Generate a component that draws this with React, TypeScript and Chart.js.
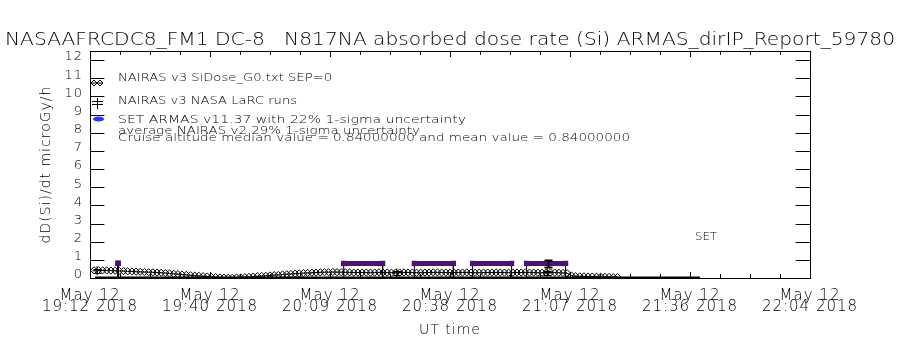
import React, { useEffect, useRef } from 'react';
import { Chart, registerables } from 'chart.js';

Chart.register(...registerables);

const FONT = "'DejaVu Sans', sans-serif";
const WEIGHT = 200;

// ---------- text ----------
const titleText = 'NASAAFRCDC8_FM1 DC-8   N817NA absorbed dose rate (Si) ARMAS_dirIP_Report_59780';
const legendLabels = [
  'NAIRAS v3 SiDose_G0.txt SEP=0',
  'NAIRAS v3 NASA LaRC runs',
  'SET ARMAS v11.37 with 22% 1-sigma uncertainty',
  'average NAIRAS v2 29% 1-sigma uncertainty',
  'Cruise altitude median value = 0.84000000 and mean value = 0.84000000',
];
const setLabel = 'SET';
const xAxisTitle = 'UT time';
const yAxisTitle = 'dD(Si)/dt microGy/h';

// ---------- axes (x in minutes after 19:12 UT) ----------
const xMin = 0;
const xMax = 172;
const yMin = 0;
const yMax = 12.5;
const xTickMinutes = [0, 28.67, 57.33, 86, 114.67, 143.33, 172];
const xTickDates = ['May 12', 'May 12', 'May 12', 'May 12', 'May 12', 'May 12', 'May 12'];
const xTickTimes = ['19:12 2018', '19:40 2018', '20:09 2018', '20:38 2018', '21:07 2018', '21:36 2018', '22:04 2018'];
const yTickValues = [0, 1, 2, 3, 4, 5, 6, 7, 8, 9, 10, 11, 12];
const yTickLabels = ['0', '1', '2', '3', '4', '5', '6', '7', '8', '9', '10', '11', '12'];

// ---------- NAIRAS v3 SiDose_G0 (one sample per minute) ----------
const nairasStartMinute = 1;
const nairasStepMinutes = 1;
const nairasValues = [
  0.42, 0.43, 0.42, 0.42, 0.41, 0.40, 0.39, 0.38, 0.37, 0.36,
  0.35, 0.34, 0.33, 0.32, 0.31, 0.30, 0.29, 0.27, 0.25, 0.23,
  0.21, 0.19, 0.17, 0.15, 0.13, 0.12, 0.10, 0.08, 0.06, 0.05,
  0.03, 0.02, 0.01, 0.01, 0.02, 0.03, 0.05, 0.06, 0.08, 0.10,
  0.11, 0.12, 0.14, 0.16, 0.17, 0.19, 0.21, 0.22, 0.24, 0.25,
  0.27, 0.28, 0.29, 0.30, 0.31, 0.32, 0.32, 0.33, 0.32, 0.32,
  0.31, 0.31, 0.30, 0.30, 0.30,
  0.30, 0.29, 0.30, 0.31, 0.30, 0.30, 0.29, 0.30, 0.30, 0.31,
  0.30, 0.30, 0.29, 0.29, 0.30, 0.30, 0.31, 0.31, 0.30, 0.30,
  0.29, 0.30, 0.30, 0.30, 0.31, 0.30, 0.29, 0.29, 0.30, 0.30,
  0.30, 0.31, 0.30, 0.30, 0.29, 0.30, 0.30, 0.30, 0.31, 0.30,
  0.30, 0.29, 0.29, 0.30, 0.30, 0.30, 0.29, 0.28,
  0.26, 0.14, 0.10, 0.09, 0.09, 0.08, 0.08, 0.07, 0.07, 0.06,
  0.06, 0.05, 0.05,
];

// ---------- NAIRAS v3 NASA LaRC runs ----------
const larcMinutes = [1.7, 73.3, 109.2];
const larcValues = [0.4, 0.28, 0.28];
const larcErrors = [0.1, 0.1, 0.1];

// ---------- SET ARMAS v11.37 segments ----------
const armasStartMinutes = [6.7, 60.6, 77.5, 91.4, 104.3];
const armasEndMinutes = [6.7, 69.9, 86.8, 100.7, 113.6];
const armasValues = [0.81, 0.8, 0.8, 0.8, 0.8];

// ---------- average NAIRAS v2 uncertainty bar ----------
const avgV2Minutes = [109.4];
const avgV2Values = [0.8];
const avgV2Errors = [0.2];

// ---------- zero-level ARMAS trace ----------
const zeroLineMinutes = [1.2, 145.7];
const zeroLineValues = [0, 0];

const PURPLE = '#4e1270';
const BLUE = '#2438ff';

function fitText(ctx: CanvasRenderingContext2D, text: string, x: number, baseline: number, width: number, font: string) {
  ctx.save();
  (ctx as any).letterSpacing = '0px';
  ctx.font = font;
  ctx.fillStyle = '#000';
  ctx.textAlign = 'left';
  ctx.textBaseline = 'alphabetic';
  const w = ctx.measureText(text).width || 1;
  ctx.translate(x, baseline);
  ctx.scale(width / w, 1);
  ctx.fillText(text, 0, 0);
  ctx.restore();
}

function seg(ctx: CanvasRenderingContext2D, x1: number, y1: number, x2: number, y2: number) {
  ctx.beginPath();
  ctx.moveTo(x1, y1);
  ctx.lineTo(x2, y2);
  ctx.stroke();
}

const decorPlugin = {
  id: 'idlDecor',
  beforeDraw(chart: any) {
    const ctx = chart.ctx as CanvasRenderingContext2D;
    ctx.save();
    ctx.fillStyle = '#fff';
    ctx.fillRect(0, 0, chart.width, chart.height);
    ctx.restore();
    (ctx as any).letterSpacing = '1px';
  },
  afterDatasetsDraw(chart: any) {
    const ctx = chart.ctx as CanvasRenderingContext2D;
    const xs = chart.scales.x;
    const ys = chart.scales.y;
    ctx.save();
    ctx.strokeStyle = '#000';
    ctx.lineWidth = 1;
    const bar = (m: number, v: number, e: number, cap: number) => {
      const px = Math.round(xs.getPixelForValue(m)) + 0.5;
      const p1 = Math.round(ys.getPixelForValue(v - e)) + 0.5;
      const p2 = Math.round(ys.getPixelForValue(v + e)) + 0.5;
      seg(ctx, px, p1, px, p2);
      seg(ctx, px - cap, p1, px + cap, p1);
      seg(ctx, px - cap, p2, px + cap, p2);
    };
    larcMinutes.forEach((m, i) => bar(m, larcValues[i], larcErrors[i], 4));
    ctx.lineWidth = 2;
    avgV2Minutes.forEach((m, i) => bar(m, avgV2Values[i], avgV2Errors[i], 4));
    ctx.restore();
  },
  afterDraw(chart: any) {
    const ctx = chart.ctx as CanvasRenderingContext2D;
    const { left, right, top, bottom } = chart.chartArea;
    const xs = chart.scales.x;
    const ys = chart.scales.y;
    ctx.save();
    (ctx as any).letterSpacing = '0px';
    ctx.strokeStyle = '#000';
    ctx.lineWidth = 1;
    // box
    seg(ctx, left, Math.round(top) + 0.5, right + 1, Math.round(top) + 0.5);
    seg(ctx, Math.round(right) + 0.5, top, Math.round(right) + 0.5, bottom + 1);
    // y ticks both sides
    const yLen = (right - left) * 0.02;
    yTickValues.forEach((v) => {
      const py = Math.round(ys.getPixelForValue(v)) + 0.5;
      seg(ctx, left, py, left + yLen, py);
      seg(ctx, right, py, right - yLen, py);
    });
    // x ticks top and bottom
    xTickMinutes.forEach((v, i) => {
      const px = Math.round(xs.getPixelForValue(v)) + 0.5;
      seg(ctx, px, bottom, px, bottom - 6);
      seg(ctx, px, top, px, top + 6);
      if (i < xTickMinutes.length - 1) {
        const next = xTickMinutes[i + 1];
        for (let k = 1; k < 4; k++) {
          const mv = v + ((next - v) * k) / 4;
          const mx = Math.round(xs.getPixelForValue(mv)) + 0.5;
          seg(ctx, mx, bottom, mx, bottom - 4);
          seg(ctx, mx, top, mx, top + 4);
        }
      }
    });
    // title
    fitText(ctx, titleText, 5, 45, 890, `${WEIGHT} 18px ${FONT}`);
    // legend text
    const lx = 118;
    const baselines = [81, 104, 123, 134, 141];
    const widths = [214, 179, 348, 302, 512];
    legendLabels.forEach((t, i) => fitText(ctx, t, lx, baselines[i], widths[i], `${WEIGHT} 11px ${FONT}`));
    fitText(ctx, setLabel, 695, 240, 22, `${WEIGHT} 11px ${FONT}`);
    // legend symbols
    ctx.lineWidth = 1;
    const diamond = (cx: number, cy: number, r: number) => {
      ctx.beginPath();
      ctx.moveTo(cx - r, cy);
      ctx.lineTo(cx, cy - r);
      ctx.lineTo(cx + r, cy);
      ctx.lineTo(cx, cy + r);
      ctx.closePath();
      ctx.stroke();
    };
    diamond(94, 83, 3);
    diamond(100, 83, 3);
    seg(ctx, 91, 83, 103, 83);
    // LaRC symbol
    seg(ctx, 97.5, 98, 97.5, 109);
    seg(ctx, 92, 101.5, 103, 101.5);
    seg(ctx, 92, 104.5, 103, 104.5);
    // ARMAS symbol
    ctx.fillStyle = BLUE;
    ctx.beginPath();
    ctx.ellipse(98.5, 119, 5.5, 2.6, 0, 0, Math.PI * 2);
    ctx.fill();
    ctx.restore();
  },
};

export default function App() {
  const canvasRef = useRef<HTMLCanvasElement>(null);

  useEffect(() => {
    const canvas = canvasRef.current;
    if (!canvas) return;

    const nairasData = nairasValues.map((v, i) => ({ x: nairasStartMinute + i * nairasStepMinutes, y: v }));
    const larcData = larcMinutes.map((m, i) => ({ x: m, y: larcValues[i] }));
    const armasData: any[] = [];
    const connectorData: any[] = [];
    armasStartMinutes.forEach((s, i) => {
      const e = armasEndMinutes[i];
      const v = armasValues[i];
      armasData.push({ x: s, y: v }, { x: e, y: v }, { x: e, y: null });
      connectorData.push({ x: s, y: 0 }, { x: s, y: v }, { x: s, y: null });
      connectorData.push({ x: e, y: v }, { x: e, y: 0 }, { x: e, y: null });
    });
    const zeroData = zeroLineMinutes.map((m, i) => ({ x: m, y: zeroLineValues[i] }));

    const tickFont = { family: FONT, size: 15, weight: WEIGHT, lineHeight: 0.7 };

    const chart = new Chart(canvas, {
      type: 'line',
      data: {
        datasets: [
          {
            label: 'SET ARMAS',
            data: armasData,
            borderColor: PURPLE,
            backgroundColor: PURPLE,
            borderWidth: 5,
            pointStyle: 'rect',
            pointRadius: 3.8,
            pointBorderWidth: 0,
            spanGaps: false,
          },
          {
            label: 'NAIRAS v3 NASA LaRC runs',
            data: larcData,
            showLine: false,
            borderColor: '#000',
            backgroundColor: '#000',
            pointStyle: 'cross',
            pointRadius: 4.5,
            pointBorderWidth: 1,
          },
          {
            label: 'zero',
            data: zeroData,
            borderColor: '#000',
            borderWidth: 3,
            pointRadius: 0,
          },
          {
            label: 'connectors',
            data: connectorData,
            borderColor: '#000',
            borderWidth: 1,
            pointRadius: 0,
            spanGaps: false,
          },
          {
            label: 'NAIRAS v3 SiDose_G0.txt SEP=0',
            data: nairasData,
            borderColor: '#000',
            borderWidth: 1,
            pointStyle: 'rectRot',
            pointRadius: 3.6,
            pointBorderWidth: 1,
            pointBorderColor: '#000',
            pointBackgroundColor: 'rgba(255,255,255,0)',
          },
        ],
      },
      options: {
        animation: false,
        responsive: false,
        devicePixelRatio: 1,
        events: [],
        layout: { padding: { left: 0, top: 51, right: 90, bottom: 0 } },
        plugins: {
          legend: { display: false },
          tooltip: { enabled: false },
          title: { display: false },
        },
        scales: {
          x: {
            type: 'linear',
            min: xMin,
            max: xMax,
            afterFit: (s: any) => { s.height = 72; },
            afterBuildTicks: (s: any) => { s.ticks = xTickMinutes.map((v) => ({ value: v })); },
            grid: { display: false, drawTicks: false },
            border: { display: true, color: '#000', width: 1 },
            ticks: {
              autoSkip: false,
              maxRotation: 0,
              minRotation: 0,
              padding: 13,
              color: '#000',
              font: tickFont,
              callback: (_v: any, i: number) => [xTickDates[i], xTickTimes[i]],
            },
            title: {
              display: true,
              text: xAxisTitle,
              color: '#000',
              font: { family: FONT, size: 14, weight: WEIGHT },
              padding: { top: 0, bottom: 11 },
            },
          },
          y: {
            type: 'linear',
            min: yMin,
            max: yMax,
            afterFit: (s: any) => { s.width = 90; },
            afterBuildTicks: (s: any) => { s.ticks = yTickValues.map((v) => ({ value: v })); },
            grid: { display: false, drawTicks: false },
            border: { display: true, color: '#000', width: 1 },
            ticks: {
              autoSkip: false,
              padding: 7,
              labelOffset: -3,
              color: '#000',
              font: { family: FONT, size: 13, weight: WEIGHT },
              callback: (_v: any, i: number) => yTickLabels[i],
            },
            title: {
              display: true,
              text: yAxisTitle,
              color: '#000',
              font: { family: FONT, size: 14, weight: WEIGHT },
              padding: { top: 37.5, bottom: 0 },
            },
          },
        },
      },
      plugins: [decorPlugin],
    } as any);

    return () => chart.destroy();
  }, []);

  return (
    <div style={{ position: 'absolute', left: 0, top: 0, width: 900, height: 350, background: '#fff' }}>
      <canvas ref={canvasRef} width={900} height={350} style={{ width: 900, height: 350, display: 'block' }} />
    </div>
  );
}
